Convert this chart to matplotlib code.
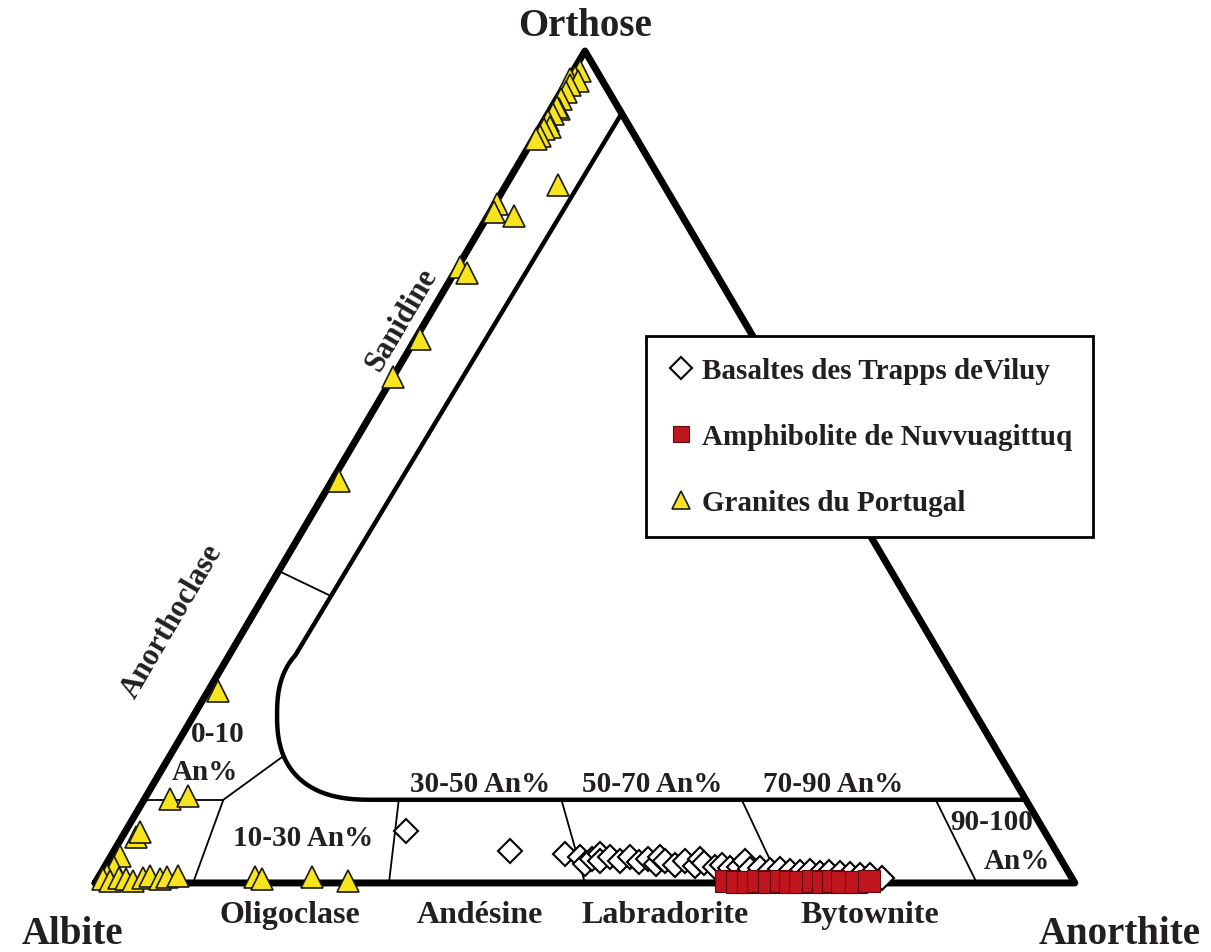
import matplotlib as mpl
mpl.use('Agg')
import matplotlib.pyplot as plt
from matplotlib.lines import Line2D
import numpy as np

plt.rcParams['font.family'] = ['Liberation Serif', 'DejaVu Serif']
plt.rcParams['font.weight'] = 'bold'
TXT = '#231f20'

# feldspar compositions in %, (An, Or) ; Ab = 100 - An - Or
granite_an = [0.7, 0.5, 0.2, 1.1, 0.5, 0.5, 0.5, 0.9, 0.5, 0.5, 0.4, 1.0, 0.5, 0.5, 0.3,
              5.3, 0.2, 0.4, 2.7, 0.3, 1.3, 0.5, 0.0, 0.8, 1.0, 2.6, 4.2,
              1.4, 1.5, 0.9, 1.0, 0.7,
              0.6, 1.4, 2.1, 2.9, 3.8, 4.6, 5.2, 6.4, 7.0, 8.1, 16.0, 16.8, 21.8, 25.7]
granite_or = [97.6, 96.9, 96.6, 96.4, 95.9, 95.1, 94.2, 93.0, 93.3, 92.4, 91.6, 90.9, 90.6, 89.8, 89.4,
              83.9, 81.6, 80.6, 80.2, 74.0, 73.3, 65.4, 60.8, 48.3, 23.1, 10.1, 10.5,
              5.5, 6.1, 3.2, 1.9, 1.0,
              0.5, 0.2, 0.6, 0.5, 0.2, 0.6, 0.8, 0.5, 0.7, 0.8, 0.7, 0.5, 0.7, 0.2]

basalt_an = [28.6, 40.4, 46.2, 47.9, 48.9, 49.3, 49.8, 50.2, 51.0, 52.3, 53.0, 54.3, 55.0, 56.1,
             56.1, 56.9, 58.1, 58.9, 60.2, 60.3, 61.0, 62.3, 62.9, 63.9, 64.8, 65.0, 66.0, 67.0,
             68.1, 69.1, 70.2, 71.3, 72.3, 73.4, 74.3, 75.4, 76.5, 77.6, 78.6, 80.0]
basalt_or = [6.25, 3.85, 3.5, 3.1, 2.3, 2.9, 3.5, 2.6, 3.1, 2.6, 3.1, 2.5, 2.9, 2.3,
             3.1, 2.6, 2.2, 2.6, 2.0, 2.9, 2.4, 1.9, 2.2, 1.8, 1.9, 2.6, 1.7, 1.8,
             1.6, 1.7, 1.4, 1.3, 1.4, 1.2, 1.3, 1.2, 1.1, 1.0, 1.0, 0.6]

amphib_an = [64.3, 65.5, 66.6, 67.6, 68.7, 69.9, 70.9, 71.9, 73.2, 74.2, 75.2, 76.2, 77.6, 78.9]
amphib_or = [0.2, 0.1, 0.1, 0.2, 0.1, 0.2, 0.1, 0.1, 0.2, 0.1, 0.2, 0.1, 0.1, 0.2]


def tern(an, orr):
    # ternary (An, Or) in % -> cartesian, Ab at (0,0), An at (1,0), Or at (0.5,1)
    an = np.asarray(an, float) / 100.0
    orr = np.asarray(orr, float) / 100.0
    return an + orr / 2.0, orr


fig = plt.figure(figsize=(12.11, 9.53), dpi=100)
ax = fig.add_axes([0, 0, 1, 1])
ax.set_xlim(-0.097, 1.139)
ax.set_ylim(-0.083, 1.0625)
ax.axis('off')

# outer triangle
ax.plot([0, 1, 0.5, 0], [0, 0, 1, 0], color='k', lw=5, solid_joinstyle='round',
        solid_capstyle='round', zorder=2)

# miscibility gap boundary: line from Or side, rounded corner, then Or = 10 %
top_x, top_y = tern(7.5, 92.5)
cx, cy, rx, ry = 0.2827, 0.202, 0.0969, 0.102
th = np.radians(np.linspace(140, 270, 80))
c, s = np.cos(th), np.sin(th)
arc_x = cx + rx * np.sign(c) * np.abs(c) ** 0.8
arc_y = cy + ry * np.sign(s) * np.abs(s) ** 0.8
end_x, end_y = tern(90, 10)
bx = np.concatenate([[top_x], arc_x, [end_x]])
by = np.concatenate([[top_y], arc_y, [end_y]])
ax.plot(bx, by, color='k', lw=3.2, solid_capstyle='butt', zorder=2)

# thin field dividers
dividers = [((0, 37.5), (6.8, 34.5)),
            ((0, 10), (8.1, 10)),
            ((8.1, 10), (11.5, 15.1)),
            ((8.1, 10), (10, 0)),
            ((26.0, 10), (30, 0)),
            ((42.6, 10), (50, 0)),
            ((61.0, 10), (70, 0)),
            ((80.8, 10), (90, 0))]
for (a1, o1), (a2, o2) in dividers:
    x, y = tern([a1, a2], [o1, o2])
    ax.plot(x, y, color='k', lw=1.3, zorder=2)

# data
x, y = tern(basalt_an, basalt_or)
ax.plot(x, y, ls='none', marker='D', ms=12.5, mfc='white', mec='k', mew=1.5, zorder=3)
x, y = tern(amphib_an, amphib_or)
ax.plot(x, y, ls='none', marker='s', ms=15.5, mfc='#c0141e', mec='#5a0a0a', mew=0.8, zorder=4)
x, y = tern(granite_an, granite_or)
ax.plot(x, y, ls='none', marker='^', ms=16.5, mfc='#f8e41c', mec='#1a1a1a', mew=1.2, zorder=5)

# legend
handles = [Line2D([], [], ls='none', marker='D', ms=11, mfc='white', mec='k', mew=1.5),
           Line2D([], [], ls='none', marker='s', ms=12, mfc='#c0141e', mec='#5a0a0a', mew=0.8),
           Line2D([], [], ls='none', marker='^', ms=13, mfc='#f8e41c', mec='#1a1a1a', mew=1.2)]
labels = ['Basaltes des Trapps deViluy', 'Amphibolite de Nuvvuagittuq', 'Granites du Portugal']
leg = ax.legend(handles, labels, loc='upper left', bbox_to_anchor=(646 / 1211, 1 - 337 / 953),
                bbox_transform=fig.transFigure, prop={'size': 21, 'weight': 'bold'},
                frameon=True, fancybox=False, edgecolor='k', framealpha=1,
                borderpad=0.72, labelspacing=1.34, handlelength=0.95, handletextpad=0.25,
                borderaxespad=0)
leg.get_frame().set_linewidth(2)
for t in leg.get_texts():
    t.set_color(TXT)

# labels
def label(px, py, s, size, rot=0):
    fig.text(px / 1211, 1 - py / 953, s, fontsize=size, fontweight='bold', color=TXT,
             ha='center', va='center', rotation=rot, rotation_mode='anchor')

label(585, 27, 'Orthose', 28)
label(72, 935, 'Albite', 28)
label(1120, 935, 'Anorthite', 28)
label(290, 916, 'Oligoclase', 23)
label(480, 916, 'Andésine', 23)
label(665, 916, 'Labradorite', 23)
label(870, 916, 'Bytownite', 23)
label(402, 320, 'Sanidine', 22, 59.6)
label(172, 622, 'Anorthoclase', 22, 59.6)
label(218, 735, '0-10', 21)
label(205, 773, 'An%', 21)
label(303, 838, '10-30 An%', 21)
label(480, 785, '30-50 An%', 21)
label(652, 785, '50-70 An%', 21)
label(833, 785, '70-90 An%', 21)
label(992, 823, '90-100', 21)
label(1017, 862, 'An%', 21)

fig.savefig('out.png', dpi=100)
